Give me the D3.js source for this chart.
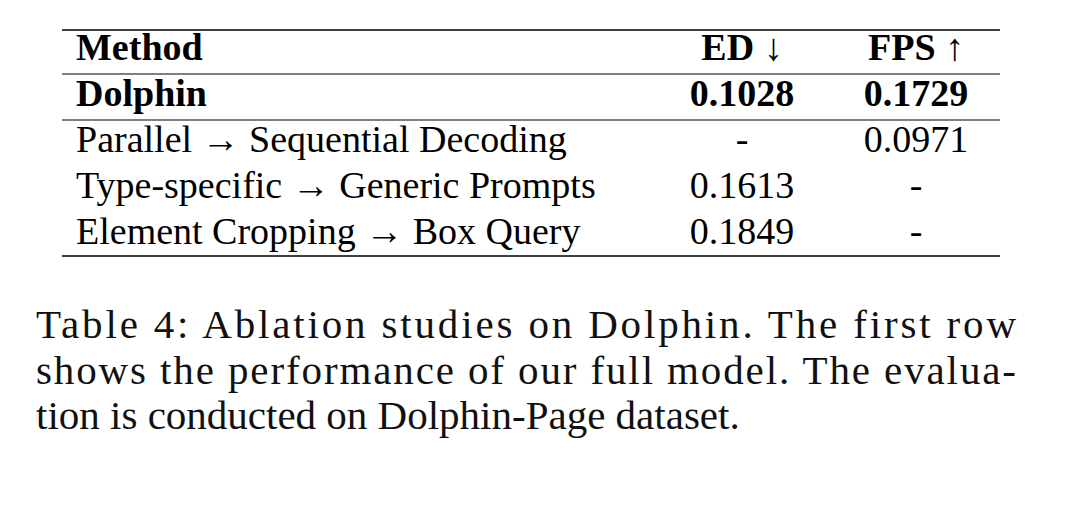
<!DOCTYPE html>
<html><head><meta charset="utf-8">
<script src="https://d3js.org/d3.v7.min.js"></script>
<style>body{margin:0;background:#fff}</style></head>
<body><svg id="c" width="1080" height="525"></svg>
<script>
const headers = ["Method", "ED \u2193", "FPS \u2191"];
const methods = ["Dolphin", "Parallel \u2192 Sequential Decoding", "Type-specific \u2192 Generic Prompts", "Element Cropping \u2192 Box Query"];
const edValues = ["0.1028", "-", "0.1613", "0.1849"];
const fpsValues = ["0.1729", "0.0971", "-", "-"];
const captionLines = ["Table 4:  Ablation studies on Dolphin.  The first row", "shows the performance of our full model.  The evalua-", "tion is conducted on Dolphin-Page dataset."];

const svg = d3.select("#c");
const font = "'Liberation Serif', 'DejaVu Serif', serif";
const colX = {method: 76, ed: 742, fps: 916};
const rowY = i => [60, 106, 152, 198, 244][i];

[[30,1.6],[74,1.2],[120,1.2],[256,1.6]].forEach(([yy,w]) =>
  svg.append("line").attr("x1",62).attr("x2",1000).attr("y1",yy).attr("y2",yy).attr("stroke","#000").attr("stroke-width",w));

function cell(txt, key, row, bold){
  svg.append("text").attr("x", colX[key]).attr("y", rowY(row))
    .attr("text-anchor", key==="method"?"start":"middle")
    .attr("font-family", font).attr("font-size", 38)
    .attr("font-weight", bold?"bold":"normal").attr("fill","#000").text(txt);
}
cell(headers[0],"method",0,true);
cell(headers[1],"ed",0,true);
cell(headers[2],"fps",0,true);
methods.forEach((m,i)=>{
  const b = i===0;
  cell(m,"method",i+1,b);
  cell(edValues[i],"ed",i+1,b);
  cell(fpsValues[i],"fps",i+1,b);
});
captionLines.forEach((t,i)=>{
  const el = svg.append("text").attr("x",36).attr("y",[338,384,429][i])
    .attr("font-family",font).attr("font-size",41).attr("fill","#111").text(t);
  if(i<2) el.attr("textLength",980).attr("lengthAdjust","spacing");
});
</script></body></html>
